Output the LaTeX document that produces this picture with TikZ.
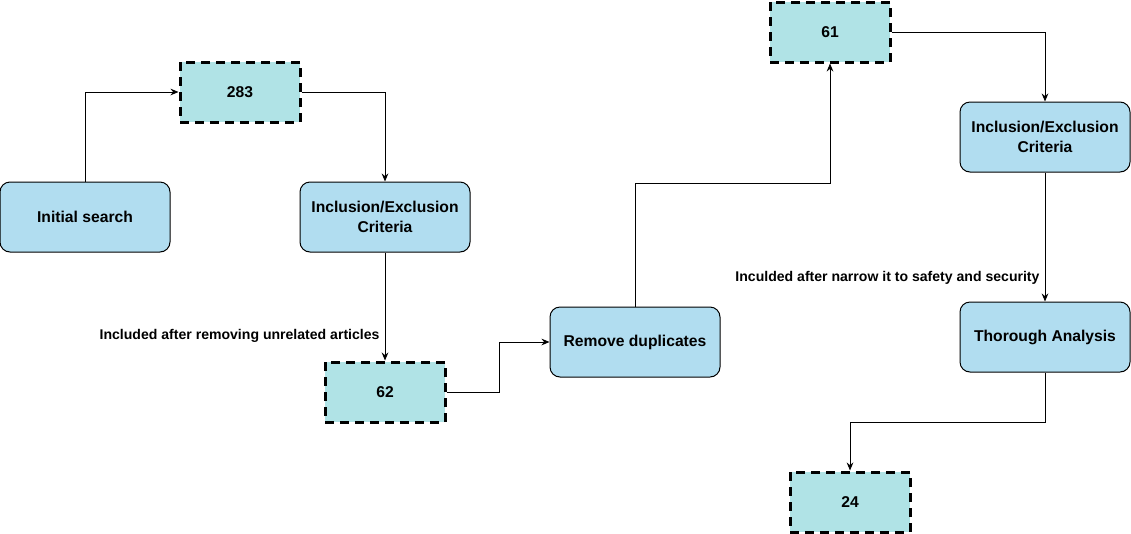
\documentclass[tikz,border=0pt]{standalone}
\usepackage{fontspec}
\setmainfont{Liberation Sans}
\usepackage{xcolor}
\usepackage{tikz}
\usetikzlibrary{arrows,arrows.meta,positioning}
\definecolor{stepblue}{HTML}{B1DDF0}
\definecolor{countcyan}{HTML}{B0E3E6}

\begin{document}
\begin{tikzpicture}[>={Stealth[length=6pt,width=5pt]},node distance=2cm,on grid,auto]
        \tikzstyle{step_node}=[rounded corners=7.5pt,fill=stepblue,draw=black,line width=0.75pt,minimum width=127.5pt,minimum height=52.5pt,align=center,font=\fontsize{11.75pt}{15pt}\selectfont\bfseries]
        \tikzstyle{count_node}=[fill=countcyan,draw=black,line width=2.25pt,dash pattern=on 6.75pt off 4.5pt,minimum width=90pt,minimum height=45pt,font=\fontsize{11.75pt}{15pt}\selectfont\bfseries]
        \tikzstyle{note}=[font=\fontsize{10.55pt}{12pt}\selectfont\bfseries,inner sep=3.75pt]
        \useasboundingbox (0,0) rectangle (848.25pt,-399.75pt);
        \node[step_node]  (init) at (63.75pt,-162.75pt)       {Initial search};
        \node[count_node] (n283) [above right=93.75pt and 116.25pt of init]   {283};
        \node[step_node]  (incl1) [right=225pt of init]      {Inclusion/Exclusion\\Criteria};
        \node[count_node] (n62) [below=131.25pt of incl1]    {62};
    \node[step_node]  (remove) [above right=37.5pt and 187.5pt of n62]   {Remove duplicates};
    \node[count_node] (n61) [above right=232.5pt and 146.25pt of remove]   {61};
    \node[step_node]  (incl2) [below right=78.75pt and 161.25pt of n61]   {Inclusion/Exclusion\\Criteria};
    \node[step_node]  (thorough) [below=150pt of incl2]   {Thorough Analysis};
    \node[count_node] (n24) [below left=123.75pt and 146.25pt of thorough]   {24};

    \path[->,line width=0.75pt]
    (init) edge[to path={|- (\tikztotarget)}]   node {}  (n283)
    (n283) edge[to path={-| (\tikztotarget)}]   node {}  (incl1)
    (incl1) edge  node[note,left,pos=0.773] {Included after removing unrelated articles}  (n62)
    (n61) edge[to path={-| (\tikztotarget)}]    node {}  (incl2)
    (incl2) edge  node[note,left,pos=0.815] {Inculded after narrow it to safety and security}  (thorough);
    \draw[->,line width=0.75pt] (n62.east) -- ++(39.375pt,0) |- (remove.west);
    \draw[->,line width=0.75pt] (remove.north) -- ++(0,92.25pt) -| (n61.south);
    \draw[->,line width=0.75pt] (thorough.south) -- ++(0,-37.5pt) -| (n24.north);
    \end{tikzpicture}
\end{document}
